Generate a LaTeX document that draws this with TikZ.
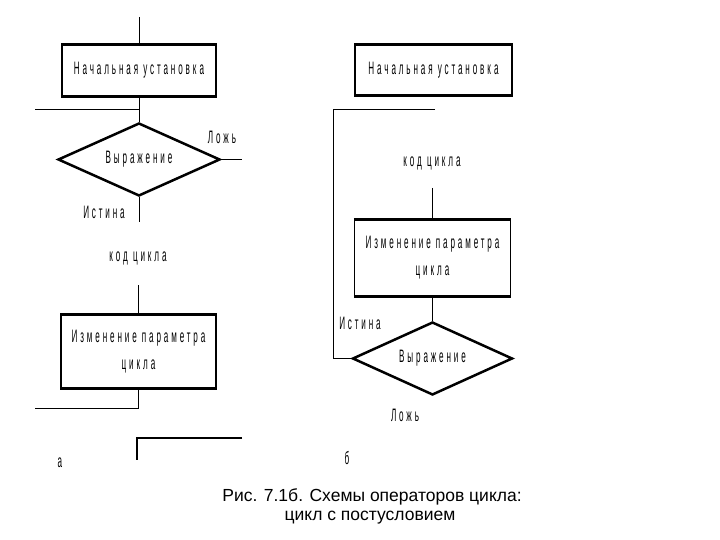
\documentclass[tikz,border=0pt]{standalone}
\usepackage{fontspec}
\setmainfont{Liberation Sans}
\newfontfamily\narrowfont[FakeStretch=0.45,LetterSpace=16]{Liberation Sans}
\usetikzlibrary{shapes.geometric}
\tikzset{
  thinline/.style={line width=1pt},
  boxnode/.style={draw, line width=1.5pt, inner sep=0pt, align=center, font=\narrowfont\fontsize{18}{27}\selectfont},
  decision/.style={draw, diamond, aspect=2.2, line width=2.5pt, inner sep=0pt, font=\narrowfont\fontsize{18}{20}\selectfont},
  lbl/.style={inner sep=0pt, font=\narrowfont\fontsize{18}{20}\selectfont},
  captext/.style={inner sep=0pt, font=\fontsize{17.5}{21}\selectfont, align=center}
}
\newcommand{\thickedges}[1]{%
  \draw[line width=3pt] (#1.north west) -- (#1.north east);
  \draw[line width=3pt] (#1.south west) -- (#1.south east);}
\begin{document}
\begin{tikzpicture}[x=1pt,y=-1pt]
\useasboundingbox (0,0) rectangle (720,540);
% ---------- left diagram (a)
\node[boxnode, minimum width=154pt, minimum height=51pt] (b1) at (139,70.5) {Начальная установка};
\thickedges{b1}
\coordinate (t1) at (139,17);
\draw[thinline] (t1) -- (b1.north);
\node[decision, minimum width=162pt, minimum height=73pt] (d1) at (139,159.5) {Выражение};
\draw[thinline] (b1.south) -- (d1.north);
\coordinate (in1) at (35,110);
\coordinate (j1) at (139,110);
\draw[thinline] (in1) -- (j1);
\coordinate (f1) at (242,159.5);
\draw[line width=1.5pt] (d1.east) -- (f1);
\node[lbl] (lf1) at (222,137) {Ложь};
\coordinate (e1) at (139,222);
\draw[thinline] (d1.south) -- (e1);
\node[lbl] (li1) at (104,212) {Истина};
\node[lbl] (body1) at (138,258) {код цикла};
\coordinate (s2) at (138.5,285);
\node[boxnode, minimum width=155pt, minimum height=73pt] (b2) at (138.5,351.5) {Изменение параметра\\цикла};
\thickedges{b2}
\draw[thinline] (s2) -- (b2.north);
\coordinate (o2) at (35,408);
\draw[thinline] (b2.south) |- (o2);
\coordinate (h1) at (242,438);
\coordinate (h2) at (137,460);
\draw[line width=2pt] (h1) -| (h2);
\node[lbl] (la) at (60,463) {а};
% ---------- right diagram (b)
\node[boxnode, minimum width=157pt, minimum height=50pt] (b3) at (433.5,70) {Начальная установка};
\thickedges{b3}
\node[lbl] (body2) at (432,163) {код цикла};
\coordinate (s4) at (432.5,188);
\node[boxnode, minimum width=156pt, minimum height=75pt] (b4) at (432.5,258) {Изменение параметра\\цикла};
\thickedges{b4}
\draw[thinline] (s4) -- (b4.north);
\node[decision, minimum width=160pt, minimum height=73pt] (d2) at (432.5,358.5) {Выражение};
\draw[thinline] (b4.south) -- (d2.north);
\coordinate (l1) at (435,110);
\coordinate (l2) at (333,110);
\draw[thinline] (l1) -- (l2) |- (d2.west);
\node[lbl] (li2) at (360,323) {Истина};
\node[lbl] (lf2) at (405,415) {Ложь};
\node[lbl] (lb) at (347,458) {б};
% ---------- caption
\node[captext] (c1) at (372,497) {Рис. 7.1б. Схемы операторов цикла:};
\node[captext] (c2) at (370,518) {цикл с постусловием};
\end{tikzpicture}
\end{document}
